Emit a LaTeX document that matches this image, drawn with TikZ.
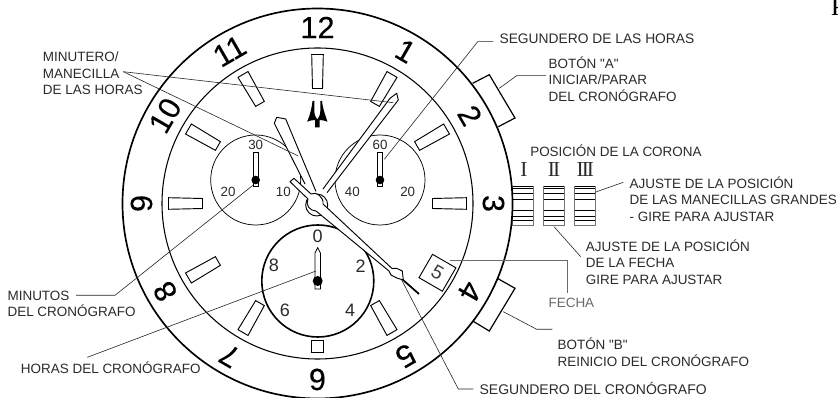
\documentclass[tikz,border=0pt]{standalone}
\usepackage{fontspec}
\setmainfont{Liberation Sans}
\newfontfamily\labelfont{Liberation Sans}
\newfontfamily\dialfont[FakeBold=.25]{Liberation Sans}
\newfontfamily\romanfont{Liberation Serif}
\usetikzlibrary{positioning}

\definecolor{inkgray}{HTML}{2B2B2B}
\definecolor{softgray}{HTML}{6A6A6A}

\tikzset{
	label/.style={anchor=west,align=left,inner sep=0pt,text=inkgray,font=\labelfont\fontsize{10.1}{12.45}\selectfont},
	hournum/.style={inner sep=0pt,text=black,font=\dialfont\fontsize{23}{23}\selectfont},
	smallnum/.style={inner sep=0pt,text=inkgray,font=\labelfont\fontsize{10}{10}\selectfont},
	bignum/.style={inner sep=0pt,text=inkgray,font=\labelfont\fontsize{13.5}{13.5}\selectfont},
	romannum/.style={inner sep=0pt,text=inkgray,font=\romanfont\fontsize{16}{16}\selectfont},
	leader/.style={draw=black!85,line width=.45pt},
	hourmark/.style={draw=black,line width=.7pt,fill=white},
	hand/.style={draw=black,line width=.7pt,fill=white,line join=round},
	crownline/.style={draw=black,line width=.6pt},
}

\begin{document}
\begin{tikzpicture}[x=.75pt,y=-.75pt]
	\useasboundingbox (0,0) rectangle (838,398);
	\fill[white] (0,0) rectangle (838,398);

	%% Buttons and crown
	\draw[line width=.9pt,fill=white] (472.7,83.3) -- (489.3,74.7) -- (515,118) -- (498.3,126.7);
	\draw[line width=.9pt,fill=white] (497.3,278.3) -- (515,288.3) -- (489.3,331) -- (472.7,321);
	\foreach \x in {512.7,543.5,574.7} {
		\draw[draw=black!55,line width=.7pt] (\x,186) rectangle ++(20.6,39.7);
		\foreach \y in {186,188.3,193.3,199.3,210.7,216.7,220.7} {
			\draw[crownline] (\x,\y) -- ++(20.6,0);
		}
	}

	%% Case and dial
	\begin{scope}[shift={(317.5,203.5)}]
		\draw[line width=1.25pt,fill=white] (0,0) circle (195);
		\draw[line width=.8pt] (0,0) circle (155.5);
		\foreach \h in {1,...,12} {
			\node[hournum,rotate=-30*\h] (h\h) at (30*\h-90:176) {\h};
		}
		\foreach \h in {1,2,3,5,7,8,9,10,11,12} {
			\draw[hourmark,rotate=90-30*\h] (115,-5) -- (149,-5.8) -- (149,5.8) -- (115,5) -- cycle;
		}
		\draw[hourmark] (-6,136.5) rectangle (6,149);
		\draw[hourmark,rotate=-30] (125,-13.5) rectangle (152,13.5);
		\node[smallnum,font=\labelfont\fontsize{14.5}{14.5}\selectfont,text=black!75,rotate=-30] (datefive) at (30:138.5) {5};
	\end{scope}

	%% Small dials
	\foreach \x/\top/\lft/\rgt in {255.7/30/20/10,380/60/40/20} {
		\draw[line width=.55pt] (\x,180) circle (45);
		\draw[line width=.6pt,fill=white] (\x-2.2,152) rectangle (\x+2.2,186.7);
		\fill (\x,180) circle (4.3);
		\node[smallnum] at (\x,145) {\top};
		\node[smallnum] at (\x-27.7,192) {\lft};
		\node[smallnum] at (\x+27.7,192) {\rgt};
	}

	%% Large dial
	\draw[line width=1.2pt,fill=white] (317.8,281) circle (56);
	\draw[line width=.6pt,fill=white] (315,289) -- (315,253) -- (317.7,247.7) -- (320.4,253) -- (320.4,289) -- cycle;
	\fill (317.7,281) circle (5);
	\node[bignum] (hr0) at (317.7,236) {0};
	\node[bignum] (hr2) at (360.7,266) {2};
	\node[bignum] (hr4) at (350,310.7) {4};
	\node[bignum] (hr6) at (285,310.7) {6};
	\node[bignum] (hr8) at (274,265) {8};

	%% Logo
	\fill (312.5,101) .. controls (312,107) and (310,115) .. (307.2,121.7) .. controls (310,120.5) and (312.5,120) .. (315,120) -- (315,127.3) -- (319.5,127.3) -- (319.5,120) .. controls (322,120) and (324.5,120.5) .. (327.5,121.7) .. controls (325,115) and (322.5,107) .. (322,101) -- (320.3,101) -- (320.3,111) .. controls (320.3,115) and (318.5,118) .. (317.3,119.5) .. controls (316,118) and (314.3,115) .. (314.3,111) -- (314.3,101) -- cycle;

	%% Hands
	\draw[hand] (316.7,205) circle (11);
	\draw[hand] (305,184) -- (274.3,123.3) -- (276.7,117.3) -- (285.7,119) -- (316,191.5);
	\draw[hand] (323,189) -- (390,98.3) -- (396.7,93.3) -- (398.3,100) -- (327,192.7);
	\draw[hand] (290,181.7) -- (294,178.3) -- (311,194) .. controls (316,191) and (324,197) .. (323,204) -- (392,268.5) -- (396.7,268.3) -- (402.3,271) -- (403.3,280) -- (396.7,278) -- (391,275) -- (389,271) -- (316,211) .. controls (310,211) and (305,205) .. (308,199) -- cycle;
	\draw[line width=1.3pt] (402.5,279.5) -- (419,294);

	%% Labels
	\node[label,font=\labelfont\fontsize{10.35}{12.45}\selectfont] (lblSecHours) at (499.3,39) {SEGUNDERO DE LAS HORAS};
	\node[label] (lblBtnA) at (548.3,79) {BOTÓN "A"\\INICIAR/PARAR\\DEL CRONÓGRAFO};
	\node[label] (lblCrown) at (530,151) {POSICIÓN DE LA CORONA};
	\node[romannum] (posOne) at (524,170) {I};
	\node[romannum] (posTwo) at (554,170) {I\kern-1.5ptI};
	\node[romannum] (posThree) at (585.3,170) {I\kern-1.5ptI\kern-1.5ptI};
	\node[label] (lblBigHands) at (629.3,199) {AJUSTE DE LA POSICIÓN\\DE LAS MANECILLAS GRANDES\\- GIRE PARA AJUSTAR};
	\node[label] (lblDateSet) at (585.7,262) {AJUSTE DE LA POSICIÓN\\DE LA FECHA\\GIRE PARA AJUSTAR};
	\node[label,text=softgray] (lblDate) at (548.3,302.7) {FECHA};
	\node[label] (lblBtnB) at (557.3,352.5) {BOTÓN "B"\\REINICIO DEL CRONÓGRAFO};
	\node[label,font=\labelfont\fontsize{10.5}{12.45}\selectfont] (lblSecChrono) at (479.3,388.7) {SEGUNDERO DEL CRONÓGRAFO};
	\node[label] (lblHands) at (42.7,73.3) {MINUTERO/\\MANECILLA\\DE LAS HORAS};
	\node[label] (lblMinutes) at (7.3,303.8) {MINUTOS\\DEL CRONÓGRAFO};
	\node[label] (lblHours) at (20.7,367.3) {HORAS DEL CRONÓGRAFO};
	\node[anchor=south west,inner sep=0pt,font=\romanfont\fontsize{20}{20}\selectfont] (corner) at (830.5,15.5) {P};

	%% Leader ends
	\coordinate (onSecHours) at (384.3,159.3);
	\coordinate (onBtnA) at (499.3,88.3);
	\coordinate (onCrownThree) at (595,192.3);
	\coordinate (onCrownTwo) at (554,226.7);
	\coordinate (onDate) at (450,260);
	\coordinate (onBtnB) at (503.3,311.7);
	\coordinate (onDiamond) at (401.7,280);
	\coordinate (onHandOne) at (393.3,102.7);
	\coordinate (onHandTwo) at (298.3,156);
	\coordinate (onMinutes) at (253.3,185);
	\coordinate (onHours) at (316,271);
	\coordinate (fromHands) at (123.3,71.7);

	\draw[leader] (493.3,41.7) -- (477.7,41.7) -- (onSecHours);
	\draw[leader] (546,75.7) -- (516.7,75.7) -- (onBtnA);
	\draw[leader] (623.3,182.3) -- (onCrownThree);
	\draw[leader] (580.7,256.7) -- (onCrownTwo);
	\draw[leader,draw=softgray] (567.3,292.7) -- (567.3,260) -- (onDate);
	\draw[leader] (552.3,329.3) -- (536.7,329.3) -- (onBtnB);
	\draw[leader] (473.3,389) -- (458.3,389) -- (onDiamond);
	\draw[leader] (fromHands) -- (onHandOne);
	\draw[leader] (fromHands) -- (onHandTwo);
	\draw[leader] (76,295.3) -- (115,295.3) -- (onMinutes);
	\draw[leader] (87.3,357.3) -- (onHours);
\end{tikzpicture}
\end{document}
